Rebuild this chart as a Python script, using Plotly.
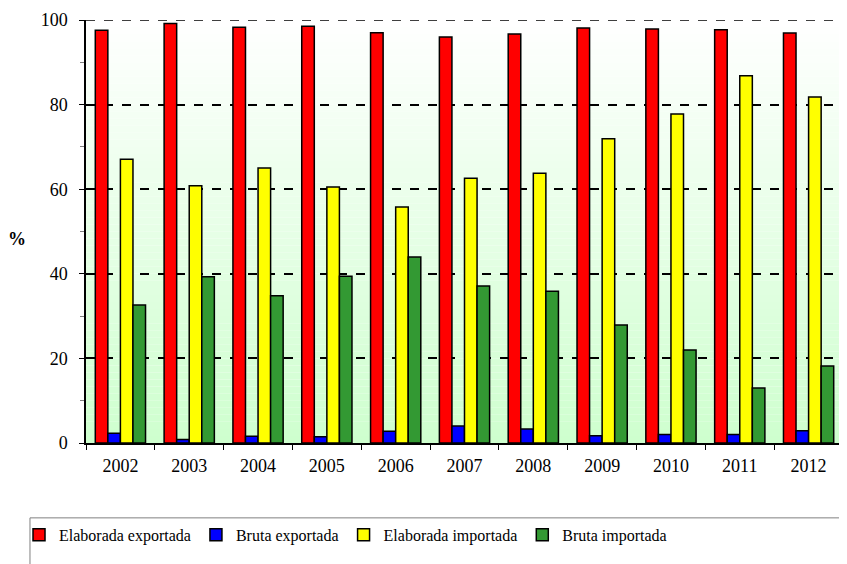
import plotly.graph_objects as go

years = ["2002", "2003", "2004", "2005", "2006", "2007", "2008", "2009", "2010", "2011", "2012"]
elab_exp = [97.6, 99.2, 98.3, 98.5, 97.0, 96.0, 96.7, 98.1, 97.9, 97.7, 96.9]
bruta_exp = [2.3, 0.8, 1.6, 1.5, 2.8, 4.0, 3.3, 1.7, 2.0, 2.0, 2.9]
elab_imp = [67.1, 60.8, 65.0, 60.5, 55.8, 62.6, 63.8, 71.9, 77.8, 86.8, 81.8]
bruta_imp = [32.6, 39.3, 34.8, 39.4, 44.0, 37.1, 35.9, 27.9, 22.0, 13.0, 18.2]

series = [
    ("Elaborada exportada", elab_exp, "#ff0000"),
    ("Bruta exportada", bruta_exp, "#0000ff"),
    ("Elaborada importada", elab_imp, "#ffff00"),
    ("Bruta importada", bruta_imp, "#339933"),
]

SERIF = "'Liberation Serif', 'Times New Roman', serif"

fig = go.Figure()
for name, vals, col in series:
    fig.add_trace(go.Bar(x=years, y=vals, name=name,
                         marker=dict(color=col, line=dict(color="black", width=1.5))))

# degradado de fondo: blanco arriba, verde claro abajo
shapes = []
n = 60
for i in range(n):
    t = (i + 0.5) / n
    g = int(round(255 - (255 - 206) * t))
    shapes.append(dict(type="rect", xref="x domain", yref="y domain",
                       x0=0, x1=1, y0=1 - (i + 1) / n, y1=1 - i / n,
                       fillcolor=f"rgb({g},255,{g})", line=dict(width=0),
                       layer="below"))
# linea de rejilla en 100 y borde derecho
shapes.append(dict(type="line", xref="x domain", yref="y", x0=0, x1=1, y0=100, y1=100,
                   line=dict(color="black", width=1.5, dash="dash")))
shapes.append(dict(type="line", xref="x domain", yref="y domain", x0=1, x1=1, y0=0, y1=1,
                   line=dict(color="#a0a0a0", width=1)))
# marco de la leyenda
shapes.append(dict(type="rect", xref="paper", yref="paper",
                   x0=-0.074, x1=1.1, y0=-0.4, y1=-0.177,
                   line=dict(color="#808080", width=1), fillcolor="rgba(0,0,0,0)"))

fig.update_layout(
    width=847, height=564,
    margin=dict(l=78, r=12, t=12, b=129, autoexpand=False),
    paper_bgcolor="white", plot_bgcolor="rgba(0,0,0,0)",
    barmode="group", bargap=0.27, bargroupgap=0,
    font=dict(family=SERIF, size=18, color="black"),
    shapes=shapes,
    showlegend=True,
    legend=dict(orientation="h", xref="container", yref="container",
                x=0.013, y=0.096, xanchor="left", yanchor="top",
                font=dict(family=SERIF, size=16), bgcolor="rgba(0,0,0,0)",
                traceorder="normal", itemwidth=30),
    annotations=[dict(text="<b>%</b>", xref="paper", yref="paper", x=-0.091, y=0.482,
                      xanchor="center", yanchor="middle", showarrow=False,
                      font=dict(family=SERIF, size=18))],
)
fig.update_xaxes(showline=True, linecolor="black", linewidth=1.5, automargin=False,
                 ticks="outside", tickson="boundaries", ticklen=5, tickcolor="black",
                 ticklabelstandoff=6, showgrid=False)
fig.update_yaxes(range=[0, 100], dtick=20, showline=True, linecolor="black", linewidth=1.5,
                 automargin=False,
                 ticks="outside", ticklen=5, tickcolor="black", ticklabelstandoff=8,
                 showgrid=True, gridcolor="black", griddash="dash", gridwidth=1.5,
                 zeroline=False,
                 minor=dict(dtick=10, ticks="outside", ticklen=4, tickcolor="#808080", showgrid=False))

fig.write_html("out.html")
